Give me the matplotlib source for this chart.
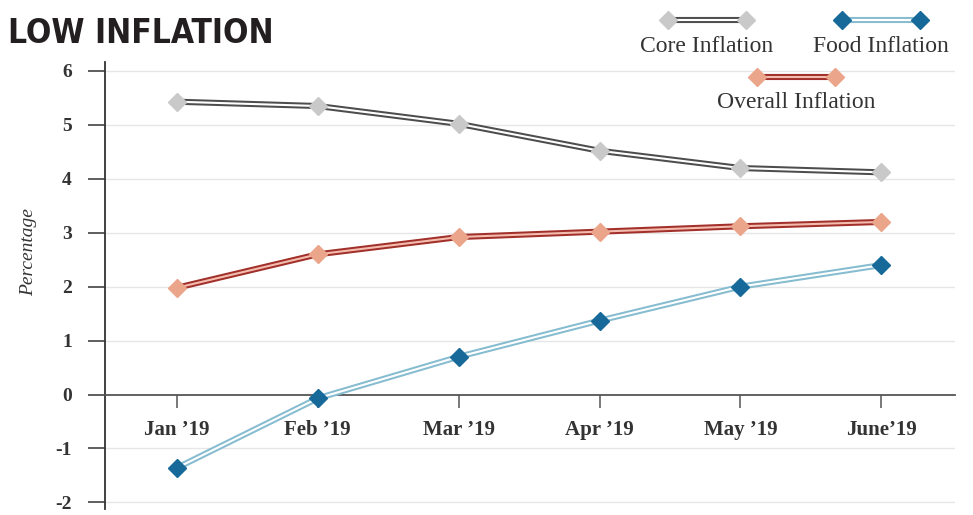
import numpy as np
import matplotlib.pyplot as plt
from matplotlib.lines import Line2D

# dados
meses = ["Jan \u201919", "Feb \u201919", "Mar \u201919", "Apr \u201919", "May \u201919", "June\u201919"]
core = [5.43, 5.35, 5.02, 4.52, 4.2, 4.12]
overall = [1.98, 2.6, 2.92, 3.02, 3.12, 3.2]
food = [-1.36, -0.07, 0.70, 1.37, 2.0, 2.40]
y_ticks = [-2, -1, 0, 1, 2, 3, 4, 5, 6]

serif = ["Liberation Serif", "DejaVu Serif"]
txt = "#333333"

# estilos: (cor externa, cor interna, cor do marcador)
estilos = {
    "core": ("#4d4d4d", "#ffffff", "#c9c9c9"),
    "food": ("#86bcd0", "#ffffff", "#17699a"),
    "overall": ("#a2302a", "#f4bcae", "#eaa58a"),
}

fig = plt.figure(figsize=(9.73, 5.15), dpi=100)
ax = fig.add_axes([0.108, 0.012, 0.873, 0.868])

x = np.arange(len(meses))


def linha_dupla(ax, y, chave):
    ext, inte, mk = estilos[chave]
    ax.plot(x, y, color=ext, lw=4.4, solid_capstyle="round", zorder=3)
    ax.plot(x, y, color=inte, lw=1.5, solid_capstyle="round", zorder=4)
    ax.plot(x, y, ls="none", marker="D", ms=9, color=mk, mec=mk, zorder=5)


linha_dupla(ax, core, "core")
linha_dupla(ax, overall, "overall")
linha_dupla(ax, food, "food")

for s in ["top", "right"]:
    ax.spines[s].set_visible(False)
ax.spines["bottom"].set_position(("data", 0))
ax.spines["bottom"].set_color("#555555")
ax.spines["bottom"].set_linewidth(1.3)
ax.spines["left"].set_color("#333333")
ax.spines["left"].set_linewidth(1.3)

ax.set_xlim(-0.51, 5.52)
ax.set_ylim(-2.12, 6.17)
ax.set_yticks(y_ticks)
ax.set_yticklabels([str(v) for v in y_ticks], fontfamily=serif, fontweight="bold",
                   fontsize=14, color=txt)
ax.set_xticks(x)
ax.set_xticklabels(meses, fontfamily=serif, fontweight="bold", fontsize=15, color=txt)
ax.tick_params(axis="y", length=12, width=1.1, color="#333333", pad=12)
ax.tick_params(axis="x", length=9, width=1.1, color="#555555", pad=9)

for v in y_ticks:
    if v != 0:
        ax.axhline(v, color="#e6e6e6", lw=1, zorder=1)

fig.text(0.029, 0.51, "Percentage", rotation=90, ha="center", va="center",
         fontfamily=serif, fontstyle="italic", fontsize=14, color=txt)

fig.text(0.008, 0.935, "LOW INFLATION", ha="left", va="center",
         fontfamily="DejaVu Sans", fontstretch="condensed", fontweight="bold",
         fontsize=24, color="#231f20")

# legenda desenhada à mão
W, H = 973, 515


def item_legenda(x0, x1, y, texto, ty, chave):
    ext, inte, mk = estilos[chave]
    xs = [x0 / W, x1 / W]
    ys = [1 - y / H] * 2
    fig.add_artist(Line2D(xs, ys, color=ext, lw=4.4, transform=fig.transFigure))
    fig.add_artist(Line2D(xs, ys, color=inte, lw=1.5, transform=fig.transFigure))
    fig.add_artist(Line2D(xs, ys, ls="none", marker="D", ms=9, color=mk,
                          transform=fig.transFigure))
    fig.text((x0 + x1) / 2 / W, 1 - ty / H, texto, ha="center", va="center",
             fontfamily=serif, fontsize=17, color=txt)


item_legenda(668, 746, 20, "Core Inflation", 46, "core")
item_legenda(842, 920, 20, "Food Inflation", 46, "food")
item_legenda(757, 835, 77, "Overall Inflation", 103, "overall")

fig.savefig("out.png", dpi=100, facecolor="white")
